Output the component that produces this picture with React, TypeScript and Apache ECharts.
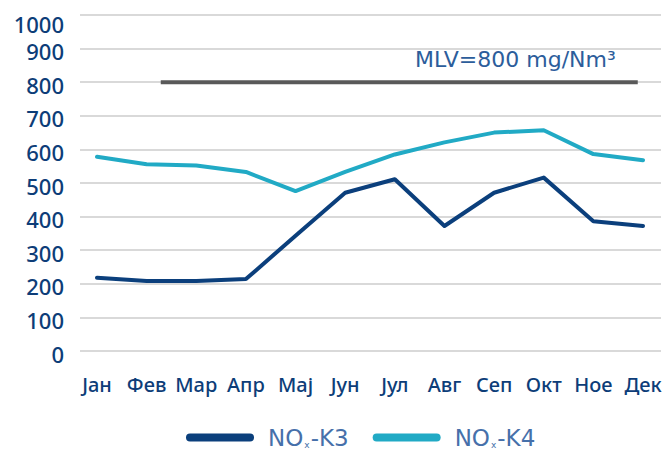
import React, { useEffect, useRef } from "react";
import * as echarts from "echarts";

const months = ["Јан", "Фев", "Мар", "Апр", "Мај", "Јун", "Јул", "Авг", "Сеп", "Окт", "Ное", "Дек"];
const k3Values = [218, 208, 208, 214, 343, 471, 511, 372, 471, 516, 386, 372];
const k4Values = [578, 556, 552, 533, 476, 533, 585, 621, 650, 657, 586, 568];
const mlvValue = 800;
const mlvSpan = [0.139, 0.96];
const yTicks = { min: 0, max: 1000, interval: 100 };
const seriesNames = ["NOx-K3", "NOx-K4"];

const FONT = "DejaVu Sans";
const AXFONT = "Noto Sans";
const NAVY = "#0d3d78";
const K3_COLOR = "#0b3f7c";
const K4_COLOR = "#21aac5";

export default function App() {
  const ref = useRef<HTMLDivElement>(null);
  useEffect(() => {
    if (!ref.current) return;
    const chart = echarts.init(ref.current, undefined, { renderer: "svg" });
    const pillIcon = "path://M4,0 H64 A4,4 0 0 1 64,8 H4 A4,4 0 0 1 4,0 Z";
    chart.setOption({
      animation: false,
      backgroundColor: "#ffffff",
      grid: [
        { left: 80, right: 11, top: 15, bottom: 99 },
        { left: 97, right: 29, top: 15, bottom: 99 },
      ],
      xAxis: [
        { type: "value", gridIndex: 0, min: 0, max: 1, show: false },
        {
          type: "category",
          gridIndex: 1,
          data: months,
          boundaryGap: false,
          axisLine: { show: false },
          axisTick: { show: false },
          axisLabel: { fontFamily: AXFONT, fontWeight: 500, fontSize: 20, color: NAVY, margin: 23, interval: 0 },
        },
      ],
      yAxis: [
        {
          type: "value",
          gridIndex: 0,
          min: yTicks.min,
          max: yTicks.max,
          interval: yTicks.interval,
          axisLine: { show: false },
          axisTick: { show: false },
          splitLine: { lineStyle: { color: "#d9d9d9", width: 2 } },
          axisLabel: {
            fontFamily: AXFONT,
            fontWeight: 500,
            fontSize: 22,
            color: NAVY,
            margin: 16,
            formatter: (v: number) => (v === yTicks.max ? "{top|" + v + "}" : "{n|" + v + "}"),
            rich: {
              n: { fontFamily: AXFONT, fontWeight: 500, fontSize: 22, color: NAVY, padding: [5, 0, 0, 0] },
              top: { fontFamily: AXFONT, fontWeight: 500, fontSize: 22, color: NAVY, padding: [17, 0, 0, 0] },
            },
          },
        },
        {
          type: "value",
          gridIndex: 1,
          min: yTicks.min,
          max: yTicks.max,
          show: false,
          splitLine: { show: false },
        },
      ],
      legend: {
        data: seriesNames,
        left: 181,
        top: 421,
        icon: pillIcon,
        itemWidth: 68,
        itemHeight: 8,
        itemGap: 24,
        textStyle: {
          fontFamily: FONT,
          fontSize: 23,
          color: "#4670aa",
          padding: [0, 0, 0, 9],
          rich: {
            sub: { fontFamily: FONT, fontSize: 9, color: "#4670aa", padding: [15, 1, 0, 1] },
          },
        },
        formatter: (name: string) => name.replace("NOx", "NO{sub|x}"),
      },
      graphic: [
        {
          type: "text",
          left: 415,
          top: 48,
          style: { text: "MLV=" + mlvValue + " mg/Nm³", fontFamily: FONT, fontSize: 22, fill: "#2c5d9b" },
        },
      ],
      series: [
        {
          name: "MLV",
          type: "line",
          xAxisIndex: 0,
          yAxisIndex: 0,
          data: mlvSpan.map((x) => [x, mlvValue]),
          symbol: "none",
          silent: true,
          lineStyle: { color: "#595959", width: 4 },
          itemStyle: { color: "#595959" },
        },
        {
          name: seriesNames[0],
          type: "line",
          xAxisIndex: 1,
          yAxisIndex: 1,
          data: k3Values,
          symbol: "none",
          lineStyle: { color: K3_COLOR, width: 4, cap: "round", join: "round" },
          itemStyle: { color: K3_COLOR },
        },
        {
          name: seriesNames[1],
          type: "line",
          xAxisIndex: 1,
          yAxisIndex: 1,
          data: k4Values,
          symbol: "none",
          lineStyle: { color: K4_COLOR, width: 4, cap: "round", join: "round" },
          itemStyle: { color: K4_COLOR },
        },
      ],
    });
    return () => chart.dispose();
  }, []);
  return (
    <div
      ref={ref}
      style={{ position: "fixed", left: 0, top: 0, width: 672, height: 450, background: "#fff" }}
    />
  );
}
